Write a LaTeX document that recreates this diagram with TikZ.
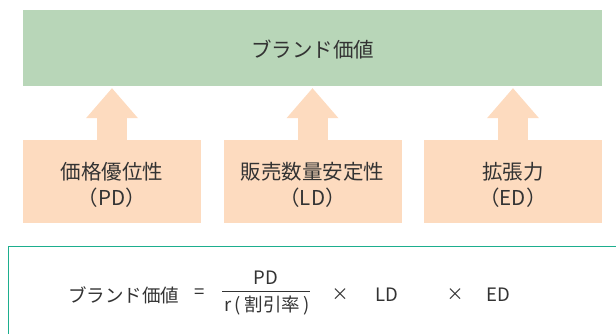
\documentclass[tikz,border=0pt]{standalone}
\usepackage{fontspec}
\setmainfont{Noto Sans CJK JP}
\usetikzlibrary{arrows.meta}
\definecolor{brandgreen}{HTML}{B8D6B8}
\definecolor{factorpeach}{HTML}{FDDBBF}
\definecolor{frameteal}{HTML}{1DAE8E}
\definecolor{inkgray}{HTML}{333333}

\begin{document}
\begin{tikzpicture}[
    x=1pt, y=-1pt,
    font=\fontsize{20.5}{26}\selectfont,
    text=inkgray,
    brandbox/.style={rectangle, fill=brandgreen, minimum width=579pt,
                     minimum height=76pt, inner sep=0pt},
    brandlabel/.style={inner sep=0pt, yshift=-2pt},
    factor/.style={rectangle, fill=factorpeach, minimum width=178pt,
                   minimum height=83pt, inner sep=0pt},
    factorlabel/.style={align=center, inner sep=0pt, yshift=-3.5pt},
    uparrow/.style={draw=factorpeach, line width=30pt, shorten >=2pt,
                    -{Triangle[width=52pt, length=30pt, line width=0pt]}},
    term/.style={inner sep=0pt, anchor=center, font=\fontsize{18.5}{22}\selectfont},
    times/.style={inner sep=0pt, anchor=center, font=\fontsize{17}{17}\selectfont},
    fracline/.style={draw=inkgray, line width=0.8pt}
  ]
  \clip (0,0) rectangle (616,334);
  % ----- top: brand value -----
  \node[brandbox, label={[brandlabel]center:ブランド価値}] (brand) at (312.5,48) {};

  % ----- factor boxes -----
  \node[factor, label={[factorlabel]center:価格優位性\\（PD）}] (pd) at (112,181.5) {};
  \node[factor, label={[factorlabel]center:販売数量安定性\\（LD）}] (ld) at (312.5,181.5) {};
  \node[factor, label={[factorlabel]center:拡張力\\（ED）}] (ed) at (513,181.5) {};
  \draw[uparrow] (pd.north) -- (pd.north |- brand.south);
  \draw[uparrow] (ld.north) -- (ld.north |- brand.south);
  \draw[uparrow] (ed.north) -- (ed.north |- brand.south);

  % ----- formula -----
  \draw[frameteal, line width=1pt] (8,246) rectangle (640,360);
  \node[term] (lhs) at (123.5,295) {ブランド価値};
  \node[term] (eq)  at (200,294) {=};
  \node[term] (num) at (266,278) {PD};
  \node[term] (den) at (267,306) {r\hspace{3.5pt}(\hspace{3.5pt}割引率\hspace{3.5pt})};
  \coordinate (fl) at (222,291);
  \coordinate (fr) at (310,291);
  \draw[fracline] (fl) -- (fr);
  \node[times] (x1) at (340,295) {×};
  \node[term] (ldt) at (387,295) {LD};
  \node[times] (x2) at (455,295) {×};
  \node[term] (edt) at (498,295) {ED};
\end{tikzpicture}
\end{document}
